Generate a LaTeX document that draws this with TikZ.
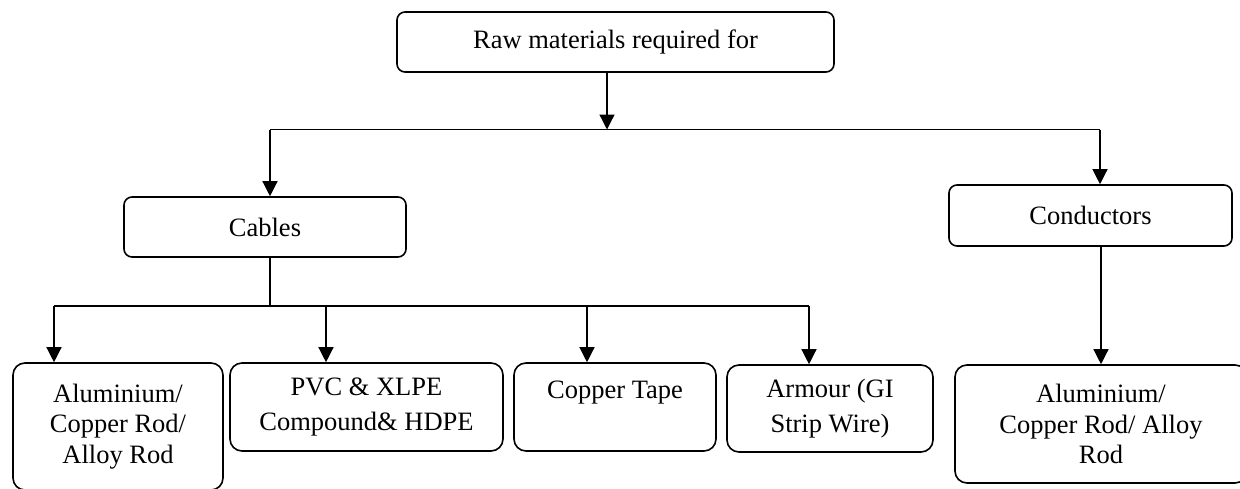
\documentclass[tikz,border=0pt]{standalone}
\usepackage{fontspec}
\setmainfont{Liberation Serif}
\usetikzlibrary{arrows.meta}
\begin{document}
\begin{tikzpicture}[x=1pt,y=-1pt,
  box/.style={draw=black, line width=1.6pt, align=center, inner sep=0pt,
    font=\fontsize{26.5}{30.5}\selectfont},
  upbox/.style={box, rounded corners=8pt},
  lowbox/.style={box, rounded corners=12pt},
  wide/.style={font=\fontsize{26.5}{35}\selectfont},
  conn/.style={line width=1.3pt, draw=black},
  arr/.style={conn, -{Triangle[length=15pt,width=15pt]}}
]
\useasboundingbox (0,0) rectangle (1240,488);
% boxes
\node[upbox, minimum width=437pt, minimum height=60pt] (top) at (615.5,42) {Raw materials required for};
\node[upbox, minimum width=282pt, minimum height=60pt] (cables) at (265,227) {Cables};
\node[upbox, minimum width=283pt, minimum height=61pt] (cond) at (1090.5,215.5) {Conductors};
\node[lowbox, minimum width=210pt, minimum height=127pt] (b1) at (118,426.5) {Aluminium/\\Copper Rod/\\Alloy Rod};
\node[lowbox, wide, minimum width=273pt, minimum height=88pt] (b2) at (366.5,407) {PVC \& XLPE\\Compound\& HDPE};
\node[lowbox, wide, minimum width=202pt, minimum height=88pt] (b3) at (615,407) {Copper Tape\\\mbox{}};
\node[lowbox, wide, minimum width=206pt, minimum height=87pt] (b4) at (830,408.5) {Armour (GI\\Strip Wire)};
\node[lowbox, minimum width=292pt, minimum height=118pt] (b5) at (1101,424) {Aluminium/\\Copper Rod/ Alloy\\Rod};
% junction coordinates
\coordinate (j1) at (607,129.5);
\coordinate (jl) at (270,129.5);
\coordinate (jr) at (1100,129.5);
\coordinate (k) at (270,306);
\coordinate (kl) at (54,306);
\coordinate (k2) at (326,306);
\coordinate (k3) at (587,306);
\coordinate (kr) at (809,306);
% connectors
\draw[arr] (top.south -| j1) -- (j1);
\draw[conn] (jl) -- (jr);
\draw[arr] (jl) -- (jl |- cables.north);
\draw[arr] (jr) -- (jr |- cond.north);
\draw[conn] (k |- cables.south) -- (k);
\draw[conn] (kl) -- (kr);
\draw[arr] (kl) -- (kl |- b1.north);
\draw[arr] (k2) -- (k2 |- b2.north);
\draw[arr] (k3) -- (k3 |- b3.north);
\draw[arr] (kr) -- (kr |- b4.north);
\draw[arr] (cond.south -| b5.north) -- (b5.north);
\end{tikzpicture}
\end{document}
